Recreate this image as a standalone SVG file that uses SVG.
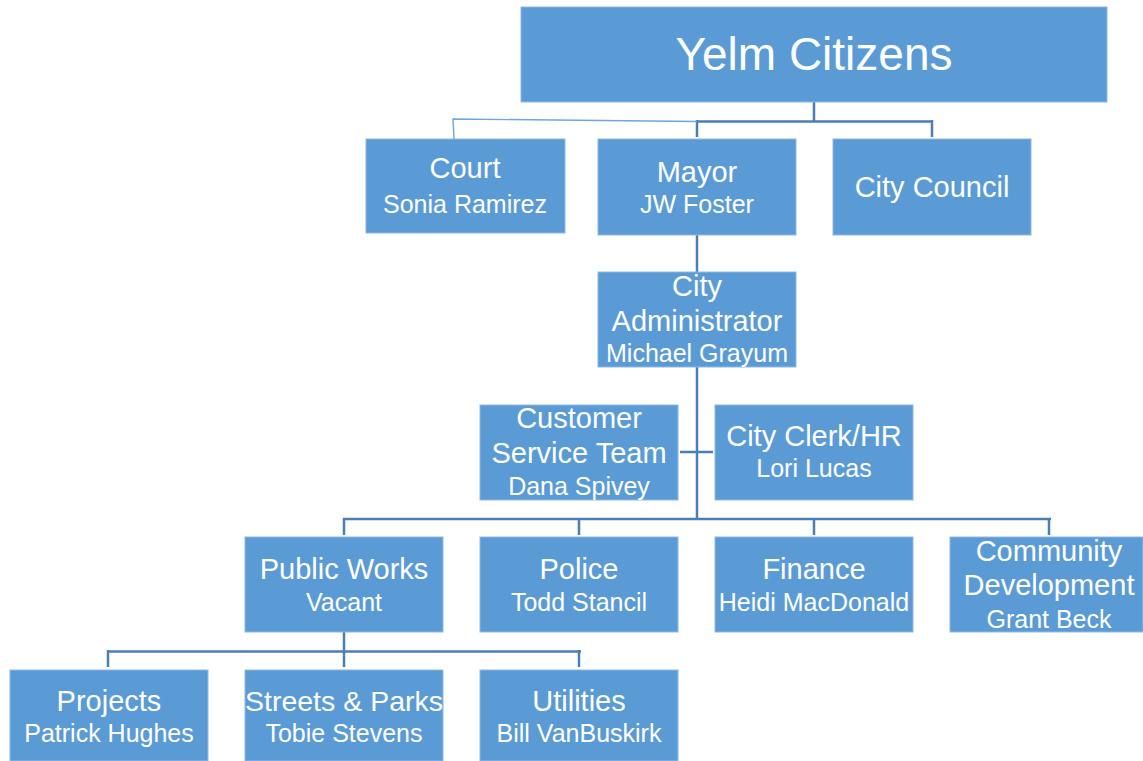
<svg xmlns="http://www.w3.org/2000/svg" width="1143" height="761" viewBox="0 0 1143 761">
<style>
.box{fill:#5b9bd5;stroke:#8fb8e3;stroke-width:1}
.t{font-family:"Liberation Sans",Arial,sans-serif;fill:#ffffff;text-anchor:middle}
.p{font-size:29px}
.s{font-size:25px}
.title{font-size:46px}
.c{fill:none;stroke:#4a7fb5;stroke-width:2.5}
.thin{fill:none;stroke:#6fa6da;stroke-width:1.4}
</style>
<rect width="1143" height="761" fill="#ffffff"/>
<g id="connectors">
<path class="c" d="M814 102 V121.5 M697 121.5 H932 M697 120 V137 M932 120 V137"/>
<path class="thin" d="M697 121.5 L453 119 L454 139"/>
<path class="c" d="M697 235 V272"/>
<path class="c" d="M697 367 V519 M680 452 H713 M343 519 H1051 M344 518 V535 M579 518 V535 M814 518 V535 M1049 518 V535"/>
<path class="c" d="M344 632 V667 M107 651.5 H581 M108 650 V667 M579 650 V667"/>
</g>
<g id="yelm-citizens"><rect class="box" x="521" y="7" width="586" height="95"/><text class="t title" x="814" y="70">Yelm Citizens</text></g>
<g id="court"><rect class="box" x="366" y="139" width="199" height="94"/><text class="t p" x="465" y="178">Court</text><text class="t s" x="465" y="213">Sonia Ramirez</text></g>
<g id="mayor"><rect class="box" x="598" y="139" width="198" height="96"/><text class="t p" x="697" y="182">Mayor</text><text class="t s" x="697" y="213">JW Foster</text></g>
<g id="city-council"><rect class="box" x="833" y="139" width="198" height="96"/><text class="t p" x="932" y="197">City Council</text></g>
<g id="city-administrator"><rect class="box" x="598" y="272" width="198" height="95"/><text class="t p" x="697" y="296">City</text><text class="t p" x="697" y="331">Administrator</text><text class="t s" x="697" y="362">Michael Grayum</text></g>
<g id="customer-service"><rect class="box" x="480" y="405" width="198" height="95"/><text class="t p" x="579" y="428">Customer</text><text class="t p" x="579" y="463">Service Team</text><text class="t s" x="579" y="495">Dana Spivey</text></g>
<g id="city-clerk"><rect class="box" x="715" y="405" width="198" height="95"/><text class="t p" x="814" y="446">City Clerk/HR</text><text class="t s" x="814" y="477">Lori Lucas</text></g>
<g id="public-works"><rect class="box" x="245" y="537" width="198" height="95"/><text class="t p" x="344" y="579">Public Works</text><text class="t s" x="344" y="611">Vacant</text></g>
<g id="police"><rect class="box" x="480" y="537" width="198" height="95"/><text class="t p" x="579" y="579">Police</text><text class="t s" x="579" y="611">Todd Stancil</text></g>
<g id="finance"><rect class="box" x="715" y="537" width="198" height="95"/><text class="t p" x="814" y="579">Finance</text><text class="t s" x="814" y="611">Heidi MacDonald</text></g>
<g id="community-development"><rect class="box" x="950" y="537" width="193" height="95"/><text class="t p" x="1049" y="561">Community</text><text class="t p" x="1049" y="595">Development</text><text class="t s" x="1049" y="628">Grant Beck</text></g>
<g id="projects"><rect class="box" x="10" y="670" width="198" height="91"/><text class="t p" x="109" y="711">Projects</text><text class="t s" x="109" y="742">Patrick Hughes</text></g>
<g id="streets-parks"><rect class="box" x="245" y="670" width="198" height="91"/><text class="t p" x="344" y="711" style="font-size:28.5px">Streets &amp; Parks</text><text class="t s" x="344" y="742">Tobie Stevens</text></g>
<g id="utilities"><rect class="box" x="480" y="670" width="198" height="91"/><text class="t p" x="579" y="711">Utilities</text><text class="t s" x="579" y="742">Bill VanBuskirk</text></g>
</svg>
